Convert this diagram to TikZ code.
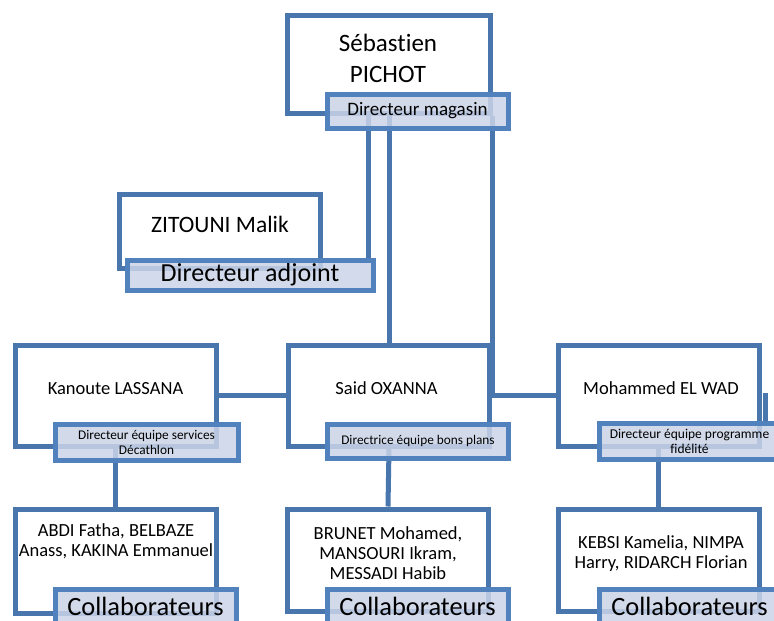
\documentclass[tikz,border=0pt]{standalone}
\usepackage{fontspec}
\setmainfont[Ligatures=NoCommon]{Carlito}
\usepackage{xcolor}
\usetikzlibrary{calc}
\definecolor{boxblue}{RGB}{74,118,174}
\definecolor{tagblue}{RGB}{82,130,190}
\definecolor{tagfill}{RGB}{203,212,231}

\begin{document}
\begin{tikzpicture}[x=1pt, y=-1pt,
	box/.style={draw=boxblue, line width=5pt, fill=white, minimum width=201pt, inner sep=0pt},
	tag/.style={draw=tagblue, line width=5pt, fill=tagfill, fill opacity=0.85, text opacity=1, minimum width=181pt, inner sep=0pt, align=center},
	link/.style={boxblue, line width=5pt},
	who/.style={align=center, font=\fontsize{18.5}{20}\selectfont}]
	\useasboundingbox (0, 0) rectangle (774, 621);
	% boxes
	\node[box, minimum width=203pt, minimum height=98pt] (pichot) at (388.5, 64) {};
	\node[box, minimum height=74pt] (zitouni) at (219.5, 231) {};
	\node[box, minimum height=101pt] (lassana) at (115.5, 395.5) {};
	\node[box, minimum height=101pt] (oxanna) at (389, 395.5) {};
	\node[box, minimum height=101pt] (elwad) at (658.5, 395.5) {};
	\node[box, minimum height=104pt] (lassanacrew) at (115.5, 561) {};
	\node[box, minimum height=102pt] (oxannacrew) at (388, 560) {};
	\node[box, minimum height=102pt] (elwadcrew) at (658.5, 560) {};
	% names
	\node[who, font=\fontsize{25}{31}\selectfont] (pichotname) at (388, 58) {Sébastien\\PICHOT};
	\node[who, font=\fontsize{23.5}{26}\selectfont] (zitouniname) at (220, 224) {ZITOUNI Malik};
	\node[who] (lassananame) at (115.5, 389) {Kanoute LASSANA};
	\node[who] (oxannaname) at (386.5, 388) {Said OXANNA};
	\node[who] (elwadname) at (661, 388) {Mohammed EL WAD};
	\node[who] (lassanacrewname) at (116, 541) {ABDI Fatha, BELBAZE\\Anass, KAKINA Emmanuel};
	\node[who] (oxannacrewname) at (388, 553) {BRUNET Mohamed,\\MANSOURI Ikram,\\MESSADI Habib};
	\node[who] (elwadcrewname) at (661, 554) {KEBSI Kamelia, NIMPA\\Harry, RIDARCH Florian};
	% links
	\coordinate (adjointtop) at (368, 260);
	\coordinate (stubtop) at (765, 393);
	\coordinate (stubend) at (765, 423);
	\draw[link] (adjointtop |- pichot.south) -- (adjointtop);
	\draw[link] (pichot.south -| oxanna.north) -- (oxanna.north);
	\draw[link] (pichot.south -| oxanna.east) |- (elwad.west);
	\draw[link] (lassana.east) -- (oxanna.west);
	\draw[link] (stubtop) -- (stubend);
	\draw[link] (lassana.south) -- (lassanacrew.north);
	\draw[link] (oxanna.south) -- (oxannacrew.north);
	\draw[link] (elwad.south) -- (elwadcrew.north);
	% tags
	\node[tag, minimum height=34pt, font=\fontsize{19}{22}\selectfont] (magasin) at (417.5, 111) {Directeur magasin};
	\node[tag, minimum width=246pt, minimum height=30pt, font=\fontsize{26}{28}\selectfont] (adjoint) at (250, 275) {Directeur adjoint};
	\node[tag, minimum width=183pt, minimum height=36pt, font=\fontsize{13.3}{15}\selectfont] (lassanatag) at (146.5, 442) {Directeur équipe services\\Décathlon};
	\node[tag, minimum height=34pt, font=\fontsize{13.3}{15}\selectfont] (oxannatag) at (418, 441) {Directrice équipe bons plans};
	\node[tag, minimum height=36pt, font=\fontsize{13.5}{15}\selectfont] (elwadtag) at (689.5, 441.5) {Directeur équipe programme\\fidélité};
	\node[tag, minimum height=34pt, font=\fontsize{26.4}{28}\selectfont] (lassanacrewtag) at (145.5, 606) {Collaborateurs};
	\node[tag, minimum height=34pt, font=\fontsize{26.4}{28}\selectfont] (oxannacrewtag) at (417.5, 606) {Collaborateurs};
	\node[tag, minimum height=34pt, font=\fontsize{26.4}{28}\selectfont] (elwadcrewtag) at (689.5, 606) {Collaborateurs};
\end{tikzpicture}
\end{document}
